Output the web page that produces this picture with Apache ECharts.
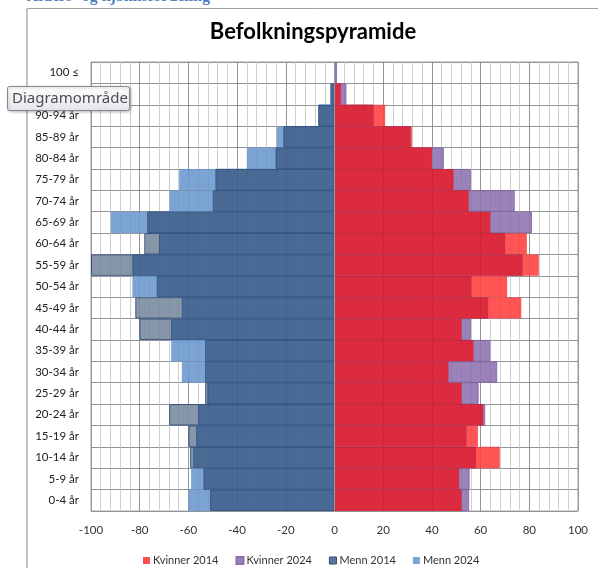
<!DOCTYPE html>
<html>
<head>
<meta charset="utf-8">
<script src="https://cdn.jsdelivr.net/npm/echarts@6/dist/echarts.min.js"></script>
<style>
html,body{margin:0;padding:0;background:#fff;}
#c{width:598px;height:568px;}
</style>
</head>
<body>
<div id="c"></div>
<script>
var categories = ['0-4 år','5-9 år','10-14 år','15-19 år','20-24 år','25-29 år','30-34 år','35-39 år','40-44 år','45-49 år','50-54 år','55-59 år','60-64 år','65-69 år','70-74 år','75-79 år','80-84 år','85-89 år','90-94 år','95-99 år','100 ≤'];
var kvinner2014 = [52.2,51.2,67.9,58.9,61.1,52.2,46.8,57.1,52.2,76.7,70.9,83.9,79.0,64.0,55.1,48.9,40.0,31.8,20.8,2.6,0];
var kvinner2024 = [55.3,55.5,58.1,54.2,61.9,59.2,66.8,64.0,56.0,63.1,56.2,77.2,70.1,81.1,74.0,56.0,44.9,31.2,16.0,4.9,1.0];
var menn2014 = [51.1,53.8,59.3,60.0,67.9,53.1,53.1,53.1,80.1,81.8,73.0,100,78.1,76.9,50.0,48.9,24.2,21.0,6.6,1.6,0];
var menn2024 = [60.0,58.9,58.0,56.8,56.0,52.2,62.7,67.1,67.1,62.7,83.0,83.0,72.1,91.9,67.8,63.8,36.0,23.8,6.6,1.6,0];
var xTicks = {min:-100, max:100, interval:20};

var neg = function(a){ return a.map(function(v){ return -v; }); };
var minOf = function(a,b){ return a.map(function(v,i){ return Math.min(v,b[i]); }); };

var chart = echarts.init(document.getElementById('c'), null, {renderer:'canvas'});
var FONT = 'Lato, "Open Sans", sans-serif';
var barBase = {type:'bar', barGap:'-100%', barCategoryGap:'0%', xAxisIndex:0, yAxisIndex:0};
function bar(o){ return Object.assign({}, barBase, o); }
var option = {
  animation:false,
  backgroundColor:'#ffffff',
  textStyle:{fontFamily:FONT},
  grid:{left:91, right:20, top:62, bottom:57, show:true, borderColor:'#A6A6A6', borderWidth:1, backgroundColor:'#fff'},
  legend:{
    left:138, top:550, itemWidth:7, itemHeight:7, itemGap:17, icon:'rect',
    textStyle:{fontFamily:FONT, fontSize:11, color:'#333', padding:[0,0,0,-2]},
    data:[
      {name:'Kvinner 2014', itemStyle:{color:'#FF5050'}},
      {name:'Kvinner 2024', itemStyle:{color:'#9B7FBB'}},
      {name:'Menn 2014', itemStyle:{color:'#5B78A0', borderColor:'#2C4A74', borderWidth:1}},
      {name:'Menn 2024', itemStyle:{color:'#7BA3D4'}}
    ]
  },
  xAxis:[{
    type:'value', min:xTicks.min, max:xTicks.max, interval:xTicks.interval,
    axisLine:{show:false}, axisTick:{show:false},
    axisLabel:{fontFamily:FONT, fontSize:11.5, color:'#333', margin:13},
    splitLine:{show:true, lineStyle:{color:'#A0A0A0', width:1}},
    minorTick:{show:false, splitNumber:5},
    minorSplitLine:{show:true, lineStyle:{color:'#D6D6D6', width:1}}
  },{
    type:'value', min:xTicks.min, max:xTicks.max, interval:xTicks.interval, position:'top', z:5,
    axisLine:{show:false}, axisTick:{show:false}, axisLabel:{show:false},
    splitLine:{show:true, lineStyle:{color:'rgba(0,0,0,0.07)', width:1}},
    minorTick:{show:false, splitNumber:5},
    minorSplitLine:{show:true, lineStyle:{color:'rgba(0,0,0,0.04)', width:1}}
  }],
  yAxis:[{
    type:'category', data:categories, boundaryGap:true,
    axisLine:{show:false}, axisTick:{show:false},
    axisLabel:{fontFamily:FONT, fontSize:11.5, color:'#222', margin:12, interval:0},
    splitLine:{show:true, lineStyle:{color:'#A6A6A6', width:1}}
  },{
    type:'category', data:categories, boundaryGap:true, position:'right', z:5,
    axisLine:{show:false}, axisTick:{show:false}, axisLabel:{show:false},
    splitLine:{show:true, lineStyle:{color:'rgba(20,40,80,0.14)', width:1}}
  }],
  series:[
    bar({name:'Kvinner 2014', data:kvinner2014, itemStyle:{color:'#FF5555'}}),
    bar({name:'Kvinner 2024', data:kvinner2024, itemStyle:{color:'#9B82B9', borderColor:'#8A6EAB', borderWidth:1}}),
    bar({name:'overlapK', data:minOf(kvinner2014,kvinner2024), silent:true, itemStyle:{color:'#DC2B3E'}}),
    bar({name:'Menn 2014', data:neg(menn2014), itemStyle:{color:'#8796A8', borderColor:'#3C5A84', borderWidth:1}}),
    bar({name:'Menn 2024', data:neg(menn2024), itemStyle:{color:'#7BA3D4'}}),
    bar({name:'overlapM', data:neg(minOf(menn2014,menn2024)), silent:true,
     itemStyle:{color:'#4A6A96', borderColor:'#3A5A86', borderWidth:1},
     markLine:{silent:true, symbol:'none', label:{show:false}, lineStyle:{color:'#9A9A9A', type:'solid', width:1}, data:[{xAxis:0}]}})
  ],
  graphic:[
    {type:'text', left:27, top:-11, style:{text:'Alders- og kjønnsfordeling', font:'bold 16px "Liberation Serif", serif', fill:'#4F81BD'}},
    {type:'line', shape:{x1:27, y1:8.5, x2:598, y2:8.5}, style:{stroke:'#A0A0A0', lineWidth:1}},
    {type:'line', shape:{x1:27, y1:8, x2:27, y2:568}, style:{stroke:'#C4C4C4', lineWidth:2}},
    {type:'text', x:313, y:32, style:{text:'Befolkningspyramide', font:'bold 22px Lato, "Open Sans", sans-serif', fill:'#000', textAlign:'center', textVerticalAlign:'middle'}},
    {type:'rect', z:100, zlevel:1, shape:{x:7.5, y:86.5, width:122, height:24, r:2}, style:{
        fill:new echarts.graphic.LinearGradient(0,0,0,1,[{offset:0,color:'#FFFFFF'},{offset:1,color:'#E4E5EE'}]),
        stroke:'#8A8A8A', lineWidth:1, shadowBlur:3, shadowColor:'rgba(0,0,0,0.25)', shadowOffsetX:1, shadowOffsetY:1}},
    {type:'text', z:101, zlevel:1, x:12, y:98.5, style:{text:'Diagramområde', font:'15px "Noto Sans", sans-serif', fill:'#4C4C4C', textVerticalAlign:'middle'}}
  ]
};
chart.setOption(option);
</script>
</body>
</html>
